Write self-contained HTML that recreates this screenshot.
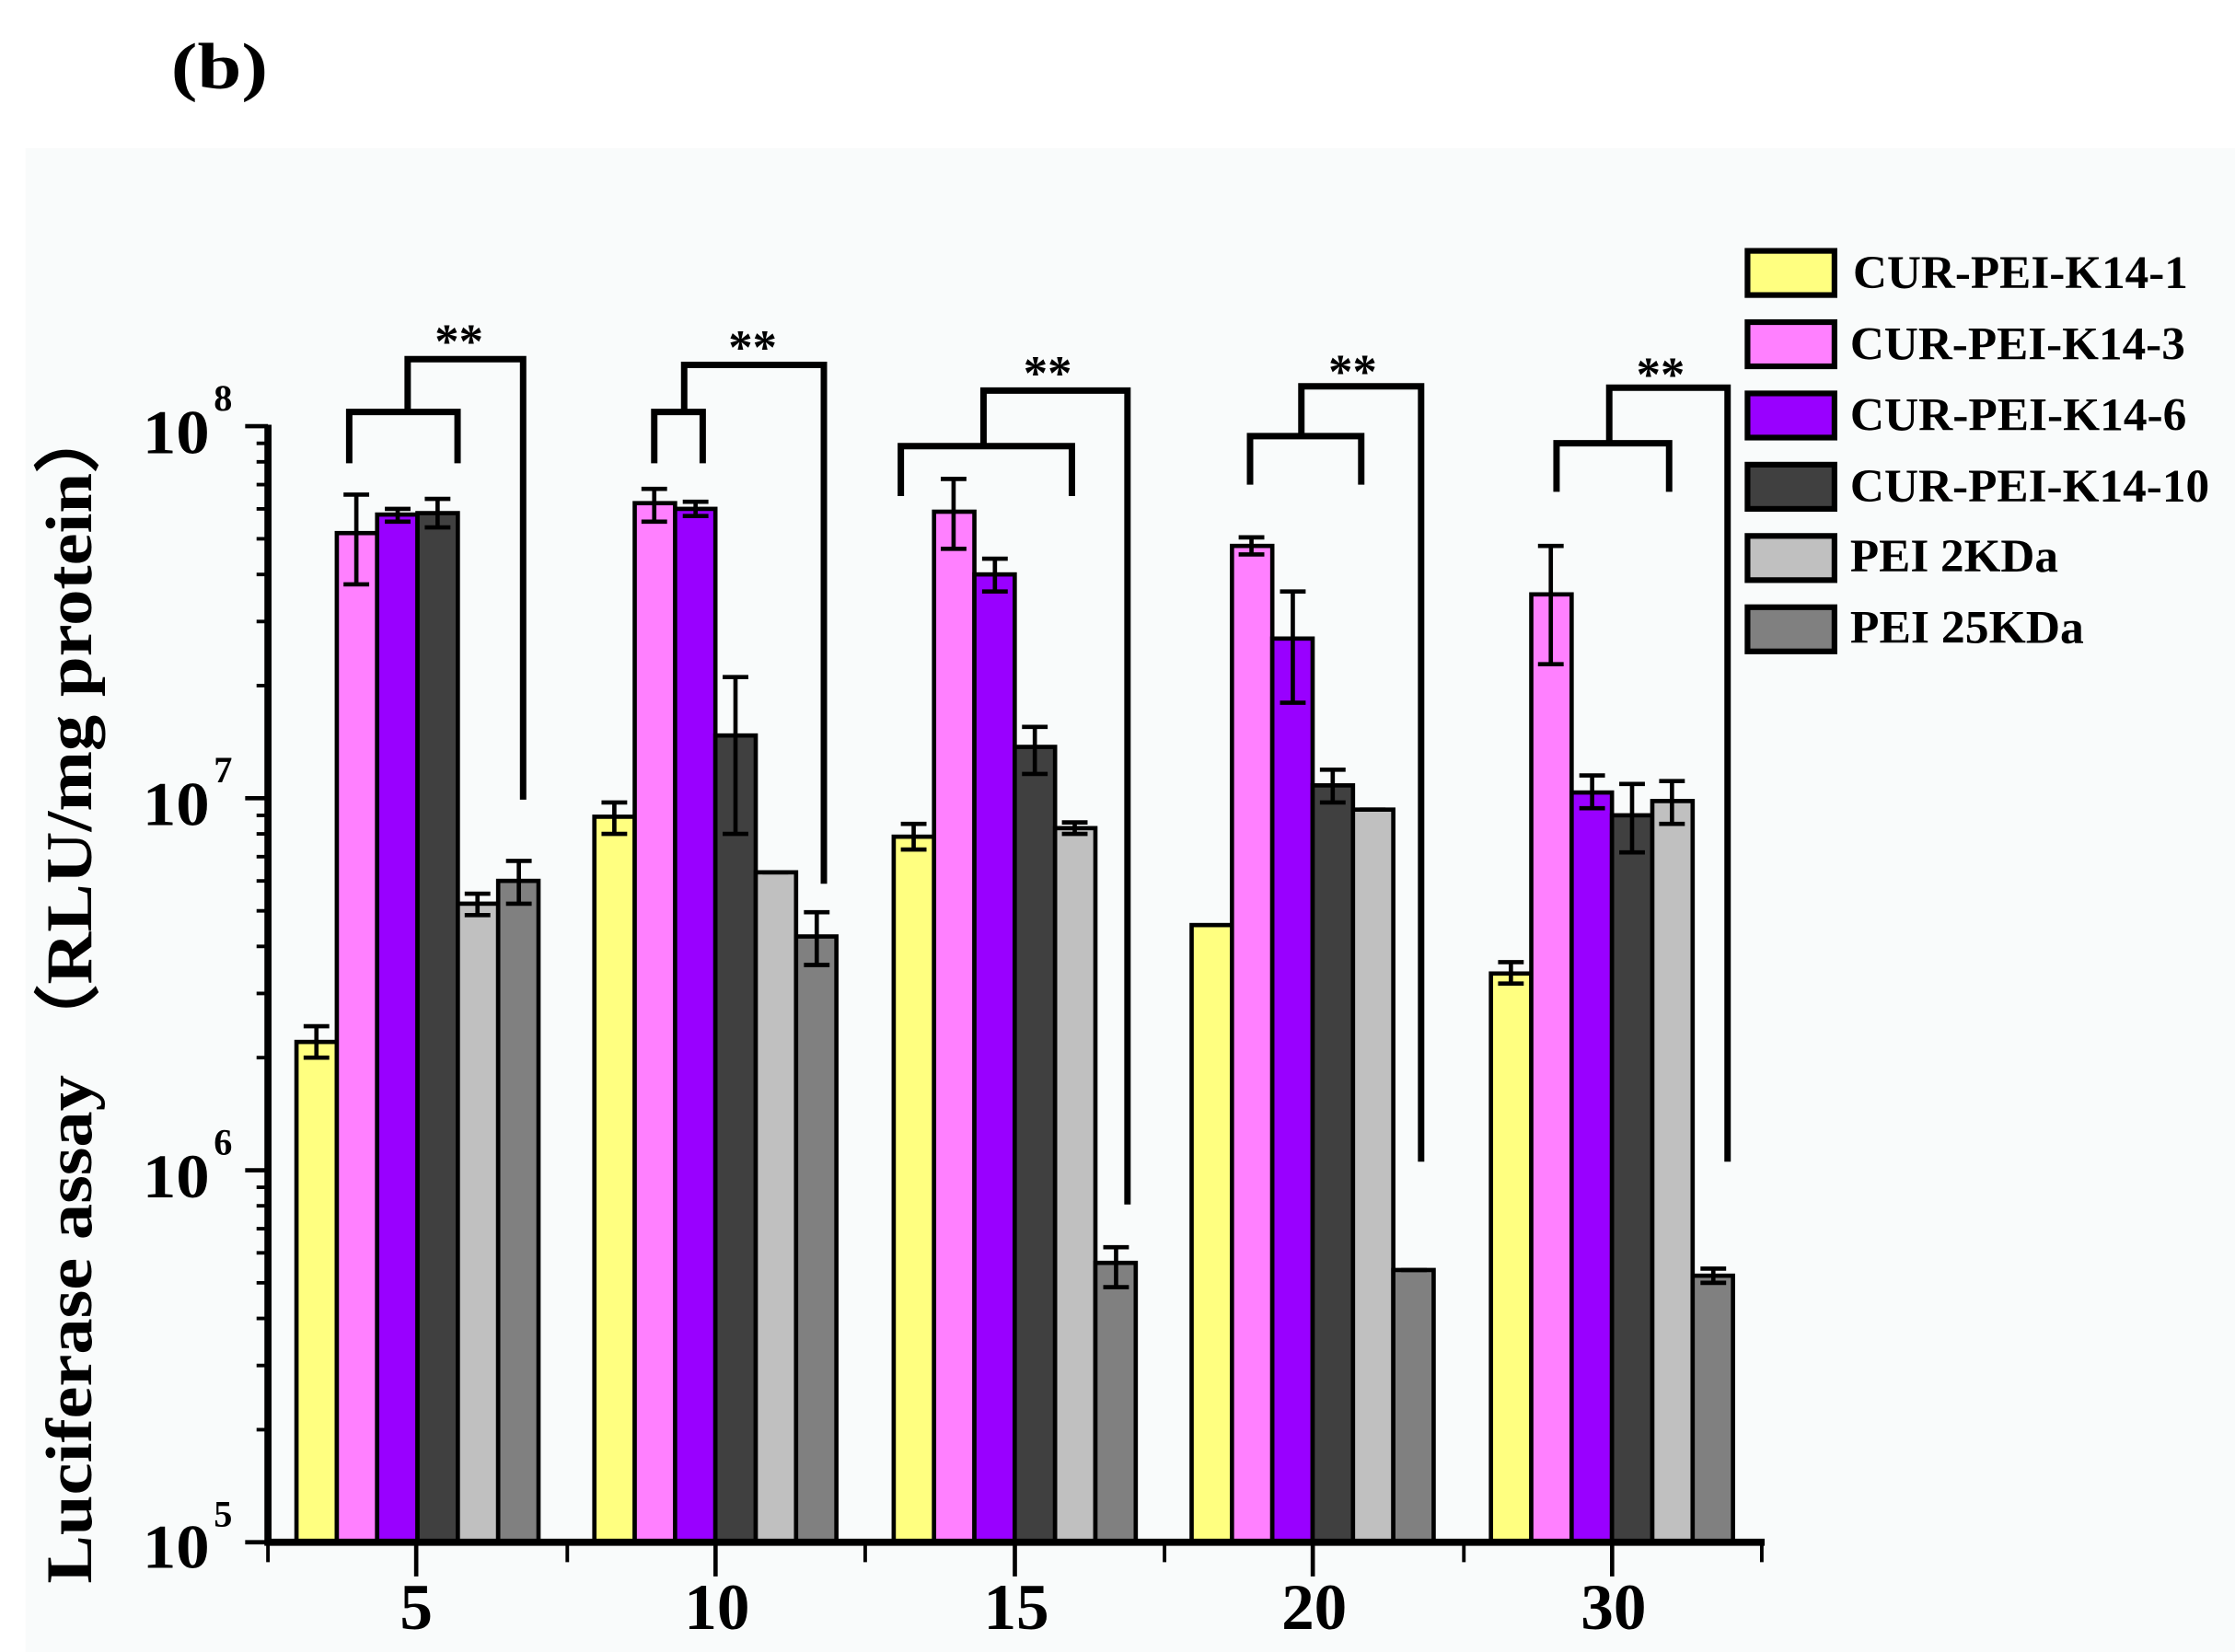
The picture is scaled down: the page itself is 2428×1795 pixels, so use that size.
<!DOCTYPE html>
<html><head><meta charset="utf-8"><style>
html,body{margin:0;padding:0;background:#fff;}
svg{display:block;}
text{font-family:"Liberation Serif",serif;font-weight:bold;fill:#000;}
</style></head><body>
<svg width="2428" height="1795" viewBox="0 0 1568 1159" preserveAspectRatio="none" xmlns="http://www.w3.org/2000/svg">
<rect x="0" y="0" width="1568" height="1159" fill="#ffffff"/>
<rect x="18" y="104" width="1550" height="1055" fill="#f9fbfb"/>
<text x="120" y="62" font-size="46" textLength="68" lengthAdjust="spacingAndGlyphs">(b)</text>

<!-- y title -->
<text transform="translate(64,696) rotate(-90)" font-size="46" text-anchor="middle" textLength="830" lengthAdjust="spacingAndGlyphs">Luciferase assay （RLU/mg protein）</text>

<!-- bars -->
<g stroke="#000" stroke-width="3">
<rect x="208" y="731" width="28.3" height="351" fill="#ffff80"/>
<rect x="236.3" y="374" width="28.3" height="708" fill="#ff80ff"/>
<rect x="264.6" y="361" width="28.3" height="721" fill="#9900ff"/>
<rect x="292.9" y="360" width="28.3" height="722" fill="#404040"/>
<rect x="321.2" y="634" width="28.3" height="448" fill="#c0c0c0"/>
<rect x="349.5" y="618" width="28.3" height="464" fill="#808080"/>
<rect x="417" y="573" width="28.3" height="509" fill="#ffff80"/>
<rect x="445.3" y="353" width="28.3" height="729" fill="#ff80ff"/>
<rect x="473.6" y="357" width="28.3" height="725" fill="#9900ff"/>
<rect x="501.9" y="516" width="28.3" height="566" fill="#404040"/>
<rect x="530.2" y="612" width="28.3" height="470" fill="#c0c0c0"/>
<rect x="558.5" y="657" width="28.3" height="425" fill="#808080"/>
<rect x="627" y="587" width="28.3" height="495" fill="#ffff80"/>
<rect x="655.3" y="359" width="28.3" height="723" fill="#ff80ff"/>
<rect x="683.6" y="403" width="28.3" height="679" fill="#9900ff"/>
<rect x="711.9" y="524" width="28.3" height="558" fill="#404040"/>
<rect x="740.2" y="581" width="28.3" height="501" fill="#c0c0c0"/>
<rect x="768.5" y="886" width="28.3" height="196" fill="#808080"/>
<rect x="836" y="649" width="28.3" height="433" fill="#ffff80"/>
<rect x="864.3" y="383" width="28.3" height="699" fill="#ff80ff"/>
<rect x="892.6" y="448" width="28.3" height="634" fill="#9900ff"/>
<rect x="920.9" y="551" width="28.3" height="531" fill="#404040"/>
<rect x="949.2" y="568" width="28.3" height="514" fill="#c0c0c0"/>
<rect x="977.5" y="891" width="28.3" height="191" fill="#808080"/>
<rect x="1046" y="683" width="28.3" height="399" fill="#ffff80"/>
<rect x="1074.3" y="417" width="28.3" height="665" fill="#ff80ff"/>
<rect x="1102.6" y="556" width="28.3" height="526" fill="#9900ff"/>
<rect x="1130.9" y="572" width="28.3" height="510" fill="#404040"/>
<rect x="1159.2" y="562" width="28.3" height="520" fill="#c0c0c0"/>
<rect x="1187.5" y="895" width="28.3" height="187" fill="#808080"/>
</g>

<!-- error bars -->
<g stroke="#000" stroke-width="3" fill="none">
<path d="M222 720V742M213 720H231M213 742H231"/>
<path d="M250 347V410M241 347H259M241 410H259"/>
<path d="M279 357V366M270 357H288M270 366H288"/>
<path d="M307 350V370M298 350H316M298 370H316"/>
<path d="M335 627V642M326 627H344M326 642H344"/>
<path d="M364 604V634M355 604H373M355 634H373"/>
<path d="M431 563V585M422 563H440M422 585H440"/>
<path d="M459 343V366M450 343H468M450 366H468"/>
<path d="M488 352V362M479 352H497M479 362H497"/>
<path d="M516 475V585M507 475H525M507 585H525"/>
<path d="M535 612H553"/>
<path d="M573 640V677M564 640H582M564 677H582"/>
<path d="M641 578V596M632 578H650M632 596H650"/>
<path d="M669 336V385M660 336H678M660 385H678"/>
<path d="M698 392V415M689 392H707M689 415H707"/>
<path d="M726 510V543M717 510H735M717 543H735"/>
<path d="M754 577V585M745 577H763M745 585H763"/>
<path d="M783 875V903M774 875H792M774 903H792"/>
<path d="M878 377V389M869 377H887M869 389H887"/>
<path d="M907 415V493M898 415H916M898 493H916"/>
<path d="M935 540V563M926 540H944M926 563H944"/>
<path d="M954 568H972"/>
<path d="M983 891H1001"/>
<path d="M1060 675V690M1051 675H1069M1051 690H1069"/>
<path d="M1088 383V466M1079 383H1097M1079 466H1097"/>
<path d="M1117 544V567M1108 544H1126M1108 567H1126"/>
<path d="M1145 550V598M1136 550H1154M1136 598H1154"/>
<path d="M1173 548V578M1164 548H1182M1164 578H1182"/>
<path d="M1202 890V900M1193 890H1211M1193 900H1211"/>
</g>

<!-- brackets -->
<g stroke="#000" stroke-width="4.5" fill="none">
<path d="M245 325V289H321V325M286 289V252H367V561"/>
<path d="M459 325V289H493V325M480 289V256H578V620"/>
<path d="M632 348V313H752V348M690 313V274H791V845"/>
<path d="M877 340V306H955V340M913 306V271H997V815"/>
<path d="M1092 345V311H1171V345M1129 311V272H1212V815"/>
</g>
<g font-size="34" text-anchor="middle">
<text x="322" y="251">**</text>
<text x="528" y="255">**</text>
<text x="735" y="273">**</text>
<text x="949" y="272">**</text>
<text x="1165" y="274">**</text>
</g>

<!-- axes -->
<g stroke="#000" fill="none">
<path d="M188 298V1082H1238" stroke-width="5"/>
<path stroke-width="3" d="M172 299H188M172 560H188M172 821H188M172 1082H188"/>
<path stroke-width="2.5" d="M180 1003H188M180 958H188M180 925H188M180 900H188M180 879H188M180 862H188M180 846H188M180 833H188
M180 742H188M180 697H188M180 664H188M180 639H188M180 618H188M180 601H188M180 585H188M180 572H188
M180 481H188M180 436H188M180 403H188M180 378H188M180 357H188M180 340H188M180 324H188M180 311H188"/>
<path stroke-width="3" d="M292 1082V1106M502 1082V1106M712 1082V1106M921 1082V1106M1131 1082V1106"/>
<path stroke-width="2.5" d="M188 1082V1096M398 1082V1096M607 1082V1096M817 1082V1096M1027 1082V1096M1236 1082V1096"/>
</g>

<!-- y tick labels -->
<g font-size="44">
<text x="100" y="318" textLength="47" lengthAdjust="spacingAndGlyphs">10</text><text x="150" y="288" font-size="26">8</text>
<text x="100" y="579" textLength="47" lengthAdjust="spacingAndGlyphs">10</text><text x="150" y="549" font-size="26">7</text>
<text x="100" y="840" textLength="47" lengthAdjust="spacingAndGlyphs">10</text><text x="150" y="810" font-size="26">6</text>
<text x="100" y="1100" textLength="47" lengthAdjust="spacingAndGlyphs">10</text><text x="150" y="1071" font-size="26">5</text>
</g>
<!-- x tick labels -->
<g font-size="46" text-anchor="middle">
<text x="292" y="1143">5</text>
<text x="503" y="1143">10</text>
<text x="713" y="1143">15</text>
<text x="922" y="1143">20</text>
<text x="1132" y="1143">30</text>
</g>

<!-- legend -->
<g stroke="#000" stroke-width="4">
<rect x="1226" y="176" width="61" height="31" fill="#ffff80"/>
<rect x="1226" y="226" width="61" height="31" fill="#ff80ff"/>
<rect x="1226" y="276" width="61" height="31" fill="#9900ff"/>
<rect x="1226" y="326" width="61" height="31" fill="#404040"/>
<rect x="1226" y="376" width="61" height="31" fill="#c0c0c0"/>
<rect x="1226" y="426" width="61" height="31" fill="#808080"/>
</g>
<g font-size="33">
<text x="1300" y="202" textLength="235" lengthAdjust="spacingAndGlyphs">CUR-PEI-K14-1</text>
<text x="1298" y="252" textLength="235" lengthAdjust="spacingAndGlyphs">CUR-PEI-K14-3</text>
<text x="1298" y="302" textLength="236" lengthAdjust="spacingAndGlyphs">CUR-PEI-K14-6</text>
<text x="1298" y="352" textLength="252" lengthAdjust="spacingAndGlyphs">CUR-PEI-K14-10</text>
<text x="1298" y="401" textLength="146" lengthAdjust="spacingAndGlyphs">PEI 2KDa</text>
<text x="1298" y="451" textLength="164" lengthAdjust="spacingAndGlyphs">PEI 25KDa</text>
</g>
</svg>
</body></html>
